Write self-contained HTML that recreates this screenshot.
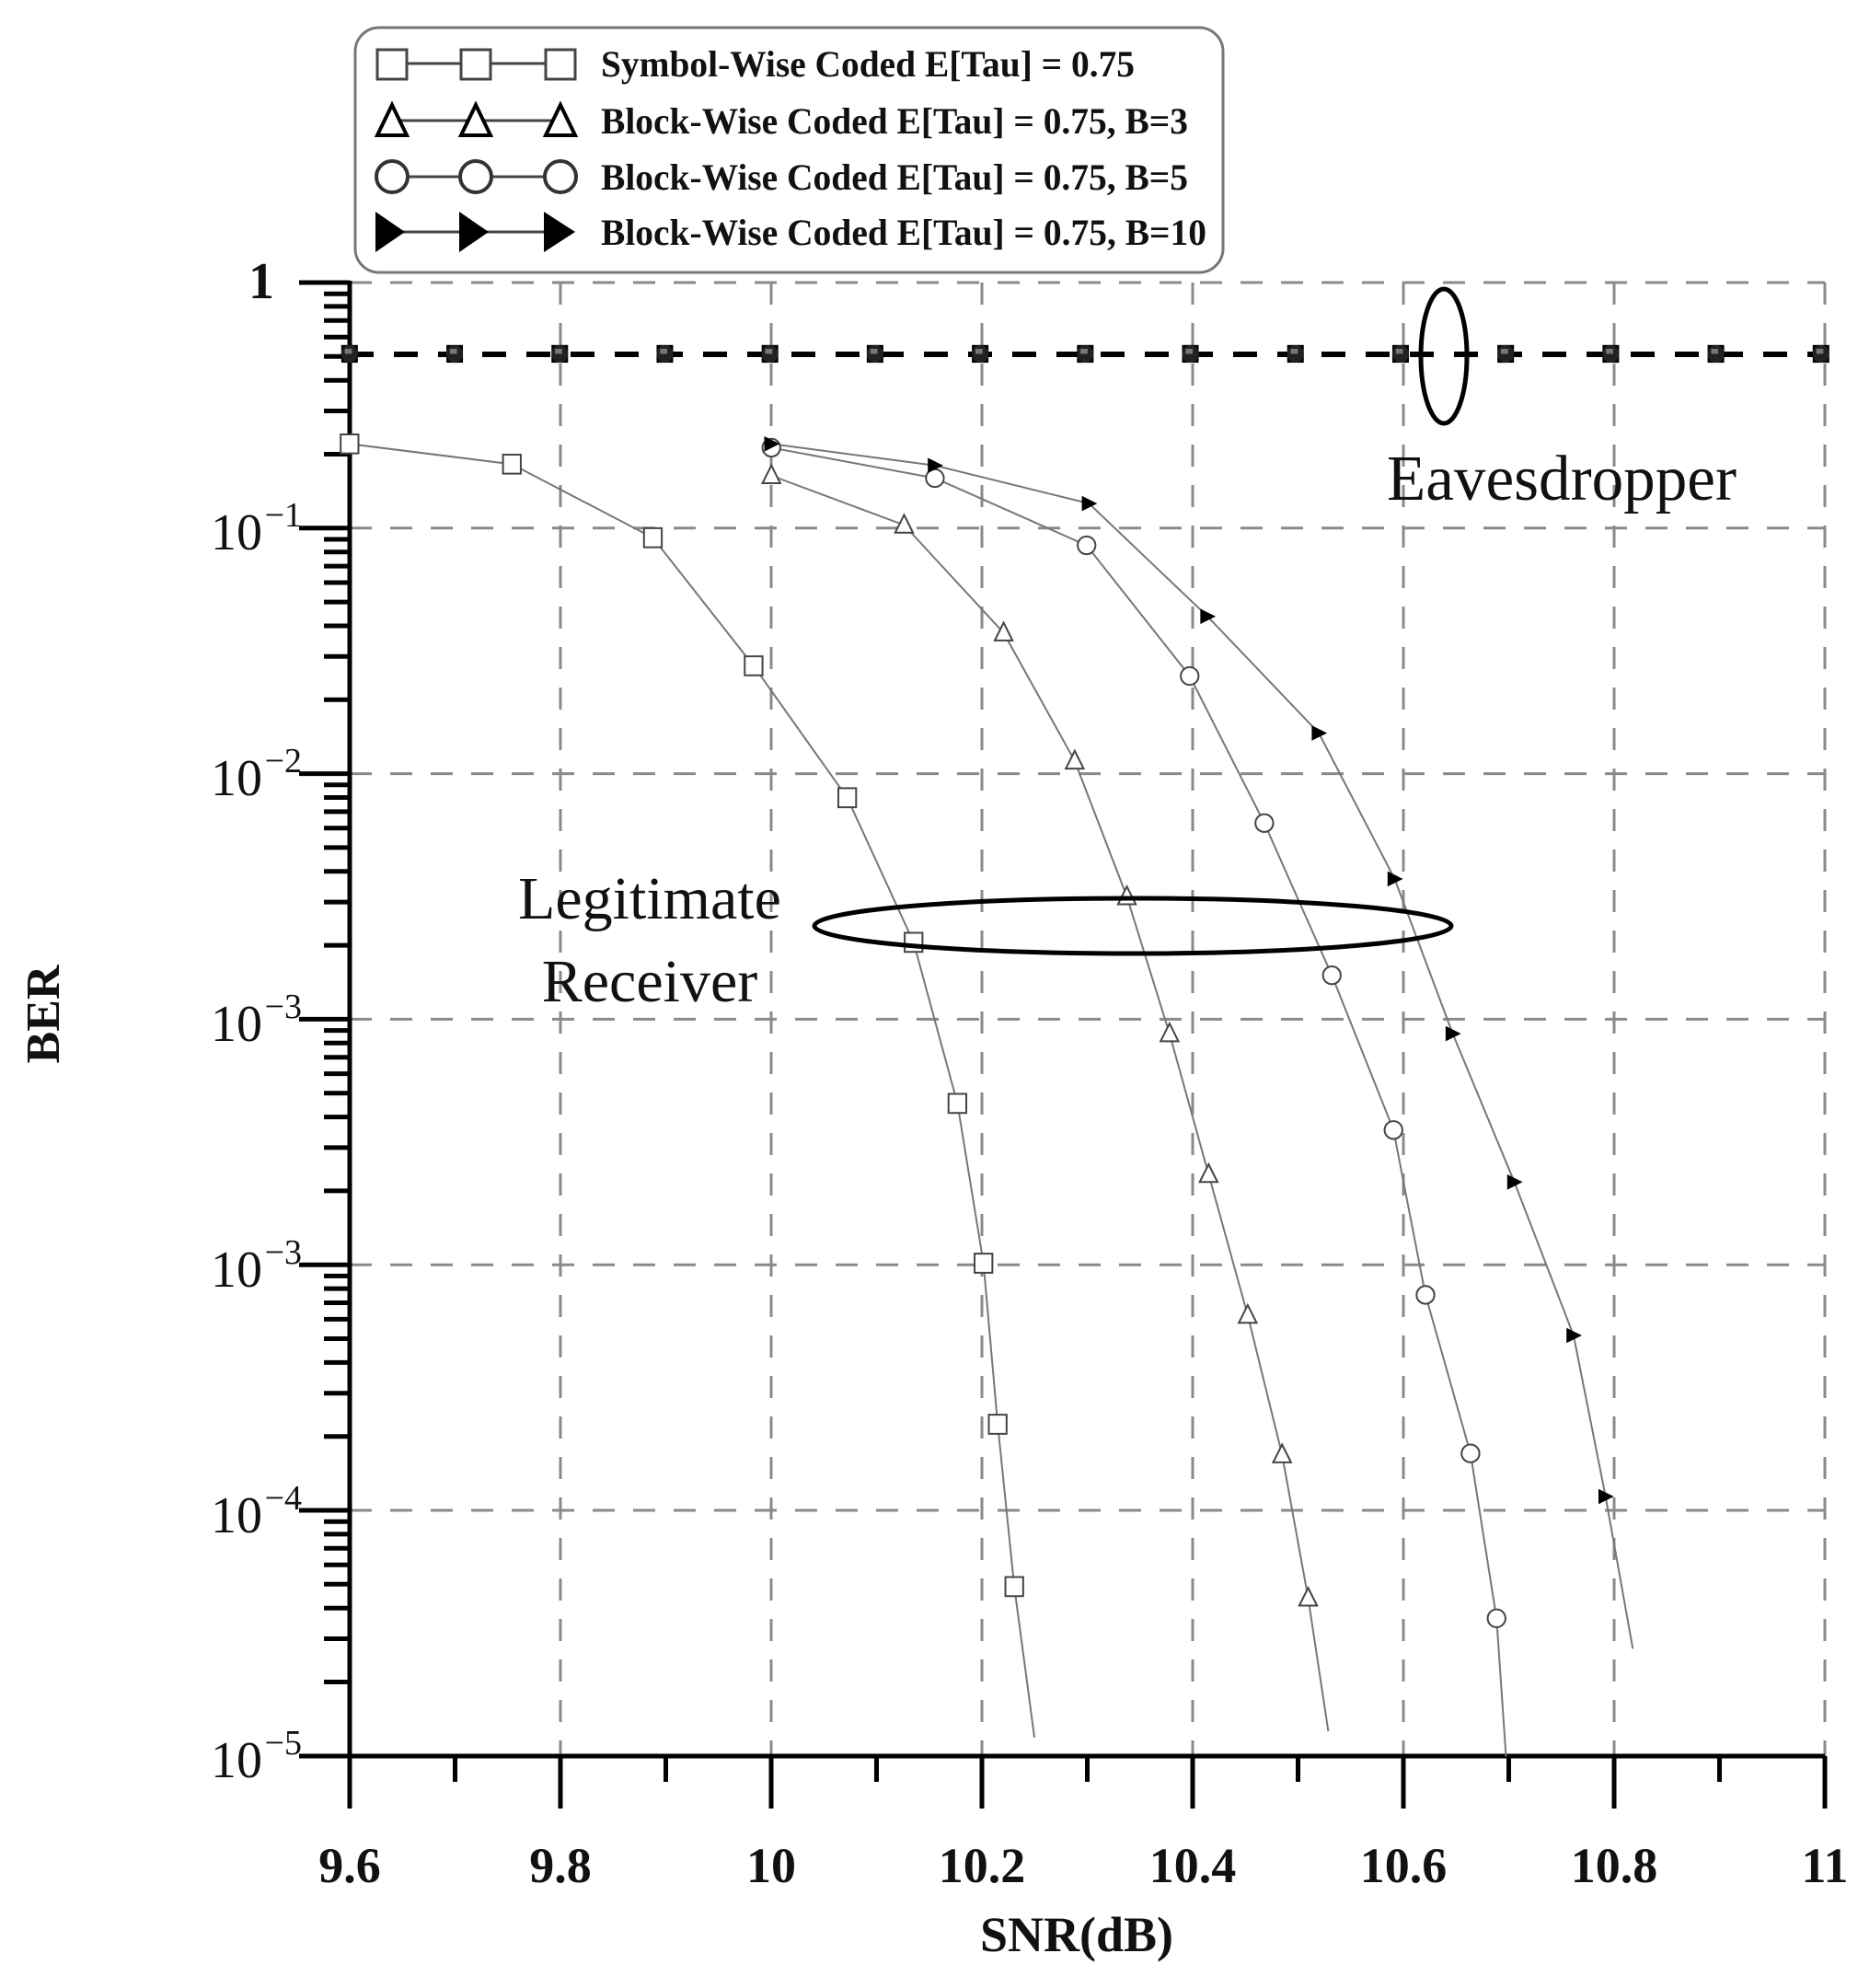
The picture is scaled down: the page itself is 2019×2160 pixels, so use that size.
<!DOCTYPE html>
<html><head><meta charset="utf-8"><style>
html,body{margin:0;padding:0;background:#fff}
svg{display:block}
text{font-family:"Liberation Serif",serif}
</style></head><body>
<svg width="2019" height="2160" viewBox="0 0 2019 2160" xmlns="http://www.w3.org/2000/svg">
<defs>
<g id="dec" stroke="#000" stroke-width="5">
<line x1="352" x2="380" y1="-80.3" y2="-80.3"/><line x1="352" x2="380" y1="-127.3" y2="-127.3"/>
<line x1="352" x2="380" y1="-160.6" y2="-160.6"/><line x1="352" x2="380" y1="-186.5" y2="-186.5"/>
<line x1="352" x2="380" y1="-207.6" y2="-207.6"/><line x1="352" x2="380" y1="-225.5" y2="-225.5"/>
<line x1="352" x2="380" y1="-240.9" y2="-240.9"/><line x1="352" x2="380" y1="-254.6" y2="-254.6"/>
</g>
<rect id="sq" x="-7.5" y="-7.5" width="15" height="15" fill="#fff" stroke="#444" stroke-width="2" vector-effect="non-scaling-stroke"/>
<polygon id="tr" points="0,-8 7.5,6 -7.5,6" fill="#fff" stroke="#444" stroke-width="2" vector-effect="non-scaling-stroke"/>
<ellipse id="ci" rx="7.5" ry="7" fill="#fff" stroke="#444" stroke-width="2" vector-effect="non-scaling-stroke"/>
<polygon id="rt" points="-6,-6 7,0 -6,6" fill="#000"/>
<g id="em"><rect x="-7" y="-7" width="14" height="14" fill="#000"/><circle r="7" fill="#222"/><rect x="-4" y="-4" width="6" height="4" fill="#777"/></g>
</defs>

<g stroke="#8a8a8a" stroke-width="3" stroke-dasharray="24 20">
<line x1="609" x2="609" y1="307" y2="1908"/><line x1="838" x2="838" y1="307" y2="1908"/>
<line x1="1067" x2="1067" y1="307" y2="1908"/><line x1="1296" x2="1296" y1="307" y2="1908"/>
<line x1="1525" x2="1525" y1="307" y2="1908"/><line x1="1754" x2="1754" y1="307" y2="1908"/>
<line x1="1983" x2="1983" y1="307" y2="1908"/>
<line x1="380" x2="1983" y1="307" y2="307"/><line x1="380" x2="1983" y1="573.8" y2="573.8"/>
<line x1="380" x2="1983" y1="840.6" y2="840.6"/><line x1="380" x2="1983" y1="1107.4" y2="1107.4"/>
<line x1="380" x2="1983" y1="1374.2" y2="1374.2"/><line x1="380" x2="1983" y1="1641" y2="1641"/>
</g>

<g stroke="#000" stroke-width="5">
<line x1="380" x2="380" y1="305" y2="1965"/>
<line x1="325" x2="1983" y1="1908" y2="1908"/>
<line x1="325" x2="380" y1="307" y2="307"/><line x1="325" x2="380" y1="573.8" y2="573.8"/>
<line x1="325" x2="380" y1="840.6" y2="840.6"/><line x1="325" x2="380" y1="1107.4" y2="1107.4"/>
<line x1="325" x2="380" y1="1374.2" y2="1374.2"/><line x1="325" x2="380" y1="1641" y2="1641"/>
<line x1="609" x2="609" y1="1908" y2="1965"/><line x1="838" x2="838" y1="1908" y2="1965"/>
<line x1="1067" x2="1067" y1="1908" y2="1965"/><line x1="1296" x2="1296" y1="1908" y2="1965"/>
<line x1="1525" x2="1525" y1="1908" y2="1965"/><line x1="1754" x2="1754" y1="1908" y2="1965"/>
<line x1="1983" x2="1983" y1="1908" y2="1965"/>
<line x1="494.5" x2="494.5" y1="1908" y2="1936"/><line x1="723.5" x2="723.5" y1="1908" y2="1936"/>
<line x1="952.5" x2="952.5" y1="1908" y2="1936"/><line x1="1181.5" x2="1181.5" y1="1908" y2="1936"/>
<line x1="1410.5" x2="1410.5" y1="1908" y2="1936"/><line x1="1639.5" x2="1639.5" y1="1908" y2="1936"/>
<line x1="1868.5" x2="1868.5" y1="1908" y2="1936"/>
</g>
<use href="#dec" y="573.8"/><use href="#dec" y="840.6"/><use href="#dec" y="1107.4"/>
<use href="#dec" y="1374.2"/><use href="#dec" y="1641"/><use href="#dec" y="1907.8"/>

<g font-size="56" fill="#111" text-anchor="end">
<text x="298" y="324" font-weight="bold">1</text>
<text x="285" y="597">10</text><text x="328" y="572" font-size="38">−1</text>
<text x="285" y="864">10</text><text x="328" y="839" font-size="38">−2</text>
<text x="285" y="1131">10</text><text x="328" y="1106" font-size="38">−3</text>
<text x="285" y="1398">10</text><text x="328" y="1373" font-size="38">−3</text>
<text x="285" y="1665">10</text><text x="328" y="1640" font-size="38">−4</text>
<text x="285" y="1931">10</text><text x="328" y="1906" font-size="38">−5</text>
</g>
<g font-size="54" font-weight="bold" fill="#111" text-anchor="middle">
<text x="380" y="2045">9.6</text><text x="609" y="2045">9.8</text><text x="838" y="2045">10</text>
<text x="1067" y="2045">10.2</text><text x="1296" y="2045">10.4</text><text x="1525" y="2045">10.6</text>
<text x="1754" y="2045">10.8</text><text x="1983" y="2045">11</text>
<text x="1170" y="2120">SNR(dB)</text>
<text transform="translate(64,1102) rotate(-90)" font-size="52">BER</text>
</g>

<line x1="380" x2="1983" y1="385" y2="385" stroke="#000" stroke-width="6" stroke-dasharray="26 22"/>
<g transform="scale(1.2876,1.378)">
<use href="#em" x="295" y="279"/><use href="#em" x="383.7" y="279"/><use href="#em" x="472.4" y="279"/>
<use href="#em" x="561.1" y="279"/><use href="#em" x="649.8" y="279"/><use href="#em" x="738.5" y="279"/>
<use href="#em" x="827.2" y="279"/><use href="#em" x="915.9" y="279"/><use href="#em" x="1004.6" y="279"/>
<use href="#em" x="1093.3" y="279"/><use href="#em" x="1182" y="279"/><use href="#em" x="1270.7" y="279"/>
<use href="#em" x="1359.4" y="279"/><use href="#em" x="1448.1" y="279"/><use href="#em" x="1536.8" y="279"/>
</g>
<ellipse cx="1569" cy="387" rx="25" ry="73" fill="none" stroke="#000" stroke-width="5"/>
<text x="1507" y="543" font-size="70" textLength="380" lengthAdjust="spacingAndGlyphs" fill="#111">Eavesdropper</text>

<g transform="scale(1.2876,1.378)" fill="none" stroke="#777" stroke-width="2">
<polyline vector-effect="non-scaling-stroke" points="295,350 432,366 551,424 636,525 715,629 771,743 808,870 830,996 842,1123 856,1251 873,1370"/>
<polyline vector-effect="non-scaling-stroke" points="651,375 763,414 847,499 907,600 951,707 987,815 1020,926 1053,1037 1082,1147 1104,1260 1121,1365"/>
<polyline vector-effect="non-scaling-stroke" points="651,353 789,377 917,430 1004,533 1067,649 1124,769 1176,891 1203,1021 1241,1146 1263,1276 1271,1385"/>
<polyline vector-effect="non-scaling-stroke" points="651,350 789,367 919,397 1019,486 1113,578 1177,693 1226,815 1278,932 1328,1053 1355,1180 1378,1300"/>
</g>
<g transform="scale(1.2876,1.378)">
<use href="#sq" x="295" y="350"/><use href="#sq" x="432" y="366"/><use href="#sq" x="551" y="424"/><use href="#sq" x="636" y="525"/><use href="#sq" x="715" y="629"/><use href="#sq" x="771" y="743"/><use href="#sq" x="808" y="870"/><use href="#sq" x="830" y="996"/><use href="#sq" x="842" y="1123"/><use href="#sq" x="856" y="1251"/>
<use href="#tr" x="651" y="375"/><use href="#tr" x="763" y="414"/><use href="#tr" x="847" y="499"/><use href="#tr" x="907" y="600"/><use href="#tr" x="951" y="707"/><use href="#tr" x="987" y="815"/><use href="#tr" x="1020" y="926"/><use href="#tr" x="1053" y="1037"/><use href="#tr" x="1082" y="1147"/><use href="#tr" x="1104" y="1260"/>
<use href="#ci" x="651" y="353"/><use href="#ci" x="789" y="377"/><use href="#ci" x="917" y="430"/><use href="#ci" x="1004" y="533"/><use href="#ci" x="1067" y="649"/><use href="#ci" x="1124" y="769"/><use href="#ci" x="1176" y="891"/><use href="#ci" x="1203" y="1021"/><use href="#ci" x="1241" y="1146"/><use href="#ci" x="1263" y="1276"/>
<use href="#rt" x="651" y="350"/><use href="#rt" x="789" y="367"/><use href="#rt" x="919" y="397"/><use href="#rt" x="1019" y="486"/><use href="#rt" x="1113" y="578"/><use href="#rt" x="1177" y="693"/><use href="#rt" x="1226" y="815"/><use href="#rt" x="1278" y="932"/><use href="#rt" x="1328" y="1053"/><use href="#rt" x="1355" y="1180"/>
</g>

<ellipse cx="1231" cy="1006" rx="346" ry="30" fill="none" stroke="#000" stroke-width="5"/>
<g font-size="66" fill="#111" text-anchor="middle">
<text x="706" y="998">Legitimate</text>
<text x="706" y="1088">Receiver</text>
</g>

<rect x="386" y="30" width="943" height="266" rx="26" fill="#fff" stroke="#777" stroke-width="3"/>
<g stroke="#444" stroke-width="3" fill="none">
<line x1="431" x2="612" y1="69" y2="69"/><line x1="431" x2="612" y1="131" y2="131"/>
<line x1="431" x2="612" y1="192" y2="192"/><line x1="431" x2="612" y1="252" y2="252"/>
<rect x="410" y="54" width="32" height="32" fill="#fff"/><rect x="501" y="54" width="32" height="32" fill="#fff"/><rect x="593" y="54" width="32" height="32" fill="#fff"/>
<polygon points="426,114 442,147 410,147" fill="#fff" stroke="#000" stroke-width="4"/>
<polygon points="517,114 533,147 501,147" fill="#fff" stroke="#000" stroke-width="4"/>
<polygon points="609,114 625,147 593,147" fill="#fff" stroke="#000" stroke-width="4"/>
<circle cx="426" cy="192" r="17" fill="#fff" stroke="#333" stroke-width="4"/>
<circle cx="517" cy="192" r="17" fill="#fff" stroke="#333" stroke-width="4"/>
<circle cx="609" cy="192" r="17" fill="#fff" stroke="#333" stroke-width="4"/>
</g>
<g fill="#000">
<polygon points="408,230 440,252 408,274"/><polygon points="499,230 531,252 499,274"/><polygon points="591,230 625,252 591,274"/>
</g>
<g font-size="40" font-weight="bold" fill="#111">
<text x="653" y="83" textLength="580" lengthAdjust="spacingAndGlyphs">Symbol-Wise Coded E[Tau] = 0.75</text>
<text x="653" y="145" textLength="638" lengthAdjust="spacingAndGlyphs">Block-Wise Coded E[Tau] = 0.75, B=3</text>
<text x="653" y="206" textLength="638" lengthAdjust="spacingAndGlyphs">Block-Wise Coded E[Tau] = 0.75, B=5</text>
<text x="653" y="266" textLength="658" lengthAdjust="spacingAndGlyphs">Block-Wise Coded E[Tau] = 0.75, B=10</text>
</g>
</svg>
</body></html>
